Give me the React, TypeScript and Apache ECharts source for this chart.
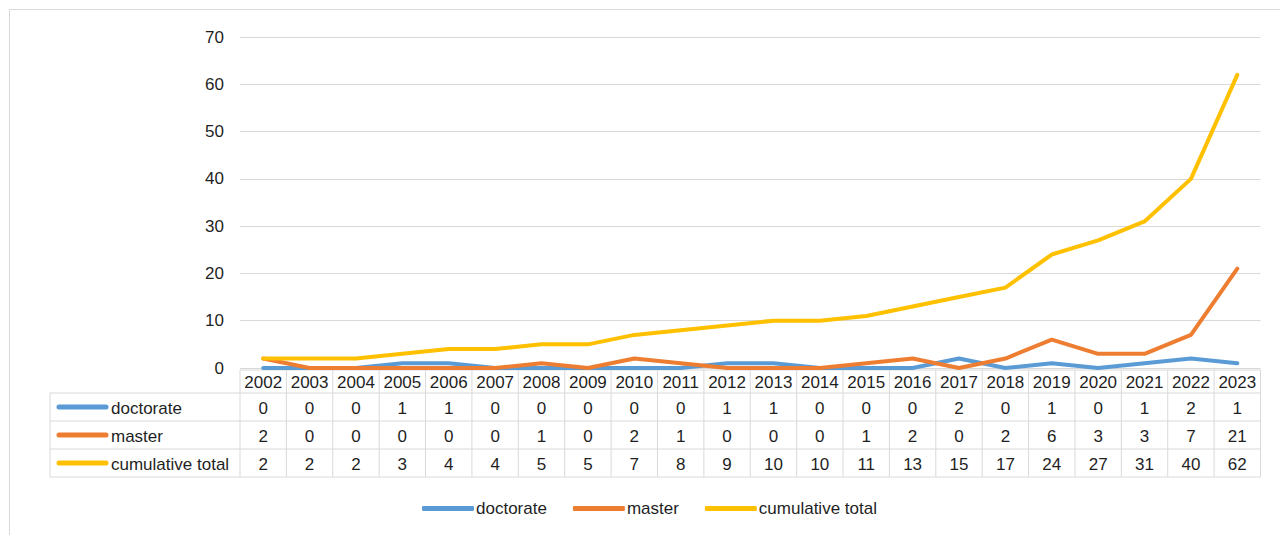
import React, { useEffect, useRef } from "react";
import * as echarts from "echarts";

// Yearly counts of completed theses, 2002–2023
const years = [
  "2002", "2003", "2004", "2005", "2006", "2007", "2008", "2009", "2010", "2011", "2012",
  "2013", "2014", "2015", "2016", "2017", "2018", "2019", "2020", "2021", "2022", "2023",
];
const doctorate = [0, 0, 0, 1, 1, 0, 0, 0, 0, 0, 1, 1, 0, 0, 0, 2, 0, 1, 0, 1, 2, 1];
const master = [2, 0, 0, 0, 0, 0, 1, 0, 2, 1, 0, 0, 0, 1, 2, 0, 2, 6, 3, 3, 7, 21];
const cumulativeTotal = [2, 2, 2, 3, 4, 4, 5, 5, 7, 8, 9, 10, 10, 11, 13, 15, 17, 24, 27, 31, 40, 62];

const seriesNames = ["doctorate", "master", "cumulative total"];
const seriesColors = ["#5B9BD5", "#ED7D31", "#FFC000"];
const seriesValues = [doctorate, master, cumulativeTotal];

const yTicks = { min: 0, max: 70, interval: 10 };

const FONT = "'Liberation Sans', Arial, sans-serif";
const FONT_SIZE = 17;
const TEXT_COLOR = "#1f1f1f";
const GRID_COLOR = "#d9d9d9";

export default function App() {
  const ref = useRef<HTMLDivElement>(null);

  useEffect(() => {
    if (!ref.current) return;
    const chart = echarts.init(ref.current, null, { renderer: "svg" });

    chart.setOption({
      animation: false,
      backgroundColor: "#ffffff",
      grid: { left: 240, right: 19.5, top: 37, bottom: 167, containLabel: false },
      legend: {
        left: 417,
        top: 495,
        itemWidth: 52,
        itemHeight: 5,
        itemGap: 26,
        icon: "roundRect",
        data: seriesNames,
        textStyle: { fontFamily: FONT, fontSize: FONT_SIZE, color: TEXT_COLOR, padding: [0, 0, 0, -3] },
      },
      xAxis: {
        type: "category",
        data: years,
        boundaryGap: true,
        axisLine: { show: false },
        axisTick: { show: false },
        axisLabel: { show: false },
      },
      yAxis: {
        type: "value",
        min: yTicks.min,
        max: yTicks.max,
        interval: yTicks.interval,
        axisLine: { show: false },
        axisTick: { show: false },
        axisLabel: { fontFamily: FONT, fontSize: FONT_SIZE, color: TEXT_COLOR, margin: 16 },
        splitLine: { lineStyle: { color: GRID_COLOR, width: 1 } },
      },
      series: seriesNames.map((name, i) => ({
        name,
        type: "line",
        data: seriesValues[i],
        symbol: "none",
        lineStyle: { width: 4, color: seriesColors[i], cap: "round", join: "round" },
        itemStyle: { color: seriesColors[i] },
      })),
    });

    // Data table under the plot, aligned to the category axis
    const firstX = chart.convertToPixel({ xAxisIndex: 0 }, 0) as number;
    const secondX = chart.convertToPixel({ xAxisIndex: 0 }, 1) as number;
    const colW = secondX - firstX;
    const tableLeft = firstX - colW / 2;
    const tableRight = tableLeft + colW * years.length;
    const labelLeft = 50;
    const rowY = [370, 393, 421, 449, 477];

    const lineStyle = { stroke: GRID_COLOR, lineWidth: 1 };
    const elements: any[] = [];

    // outer chart border
    elements.push({
      type: "rect",
      shape: { x: 9.5, y: 9.5, width: 1290, height: 540 },
      style: { fill: "none", stroke: GRID_COLOR, lineWidth: 1 },
      silent: true,
    });

    // horizontal rules
    elements.push({ type: "line", shape: { x1: tableLeft, y1: rowY[0], x2: tableRight, y2: rowY[0] }, style: lineStyle });
    for (let r = 1; r < rowY.length; r++) {
      elements.push({ type: "line", shape: { x1: labelLeft, y1: rowY[r], x2: tableRight, y2: rowY[r] }, style: lineStyle });
    }
    // vertical rules
    elements.push({ type: "line", shape: { x1: labelLeft, y1: rowY[1], x2: labelLeft, y2: rowY[4] }, style: lineStyle });
    for (let c = 0; c <= years.length; c++) {
      const x = tableLeft + c * colW;
      elements.push({ type: "line", shape: { x1: x, y1: rowY[0], x2: x, y2: rowY[4] }, style: lineStyle });
    }

    // header years
    years.forEach((y, c) => {
      const cx = chart.convertToPixel({ xAxisIndex: 0 }, c) as number;
      elements.push({
        type: "text",
        x: cx,
        y: (rowY[0] + rowY[1]) / 2 + 1,
        style: { text: y, fontFamily: FONT, fontSize: FONT_SIZE, fill: TEXT_COLOR, align: "center", verticalAlign: "middle" },
      });
    });

    // rows: legend key, name, values
    seriesNames.forEach((name, r) => {
      const cy = (rowY[r + 1] + rowY[r + 2]) / 2 + 1;
      elements.push({
        type: "line",
        shape: { x1: 59, y1: cy - 1, x2: 106, y2: cy - 1 },
        style: { stroke: seriesColors[r], lineWidth: 5, lineCap: "round" },
      });
      elements.push({
        type: "text",
        x: 111,
        y: cy,
        style: { text: name, fontFamily: FONT, fontSize: FONT_SIZE, fill: TEXT_COLOR, align: "left", verticalAlign: "middle" },
      });
      seriesValues[r].forEach((v, c) => {
        const cx = chart.convertToPixel({ xAxisIndex: 0 }, c) as number;
        elements.push({
          type: "text",
          x: cx,
          y: cy,
          style: { text: String(v), fontFamily: FONT, fontSize: FONT_SIZE, fill: TEXT_COLOR, align: "center", verticalAlign: "middle" },
        });
      });
    });

    chart.setOption({ graphic: { elements } });

    return () => chart.dispose();
  }, []);

  return (
    <div
      ref={ref}
      style={{ position: "fixed", left: 0, top: 0, width: 1280, height: 535 }}
    />
  );
}
